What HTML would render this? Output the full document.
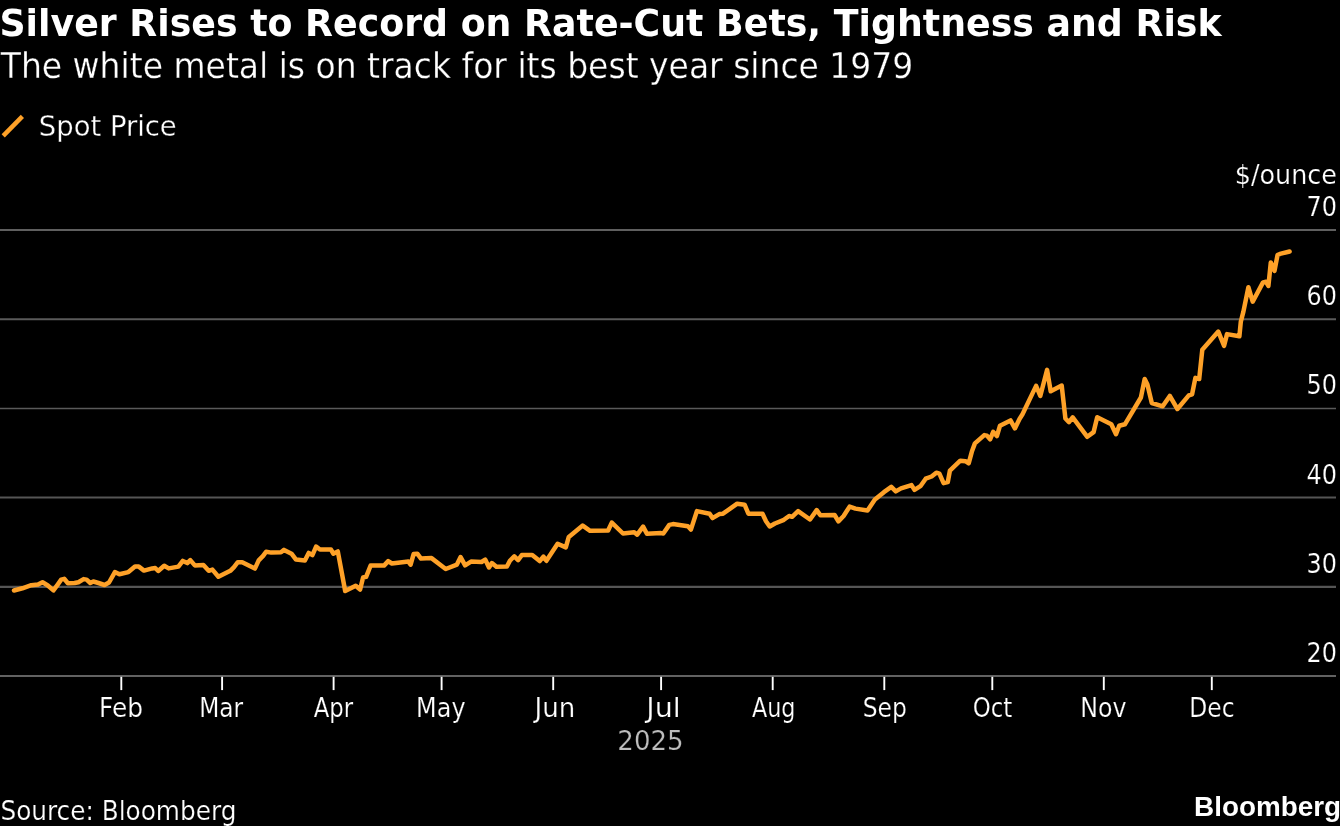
<!DOCTYPE html>
<html><head><meta charset="utf-8"><title>Silver Rises to Record</title>
<style>
html,body{margin:0;padding:0;background:#000;width:1340px;height:826px;overflow:hidden}
svg{display:block;will-change:transform}
text{fill:#fff;font-family:"DejaVu Sans","Liberation Sans",sans-serif}
.th{stroke:#000;stroke-width:0.3px}
.th2{stroke:#000;stroke-width:0.2px}
</style></head><body>
<svg width="1340" height="826" viewBox="0 0 1340 826">
<rect width="1340" height="826" fill="#000"/>
<line x1="0" x2="1336" y1="230.0" y2="230.0" stroke="#5f5f5f" stroke-width="2.0"/>
<line x1="0" x2="1336" y1="319.2" y2="319.2" stroke="#5a5a5a" stroke-width="2.0"/>
<line x1="0" x2="1336" y1="408.5" y2="408.5" stroke="#5a5a5a" stroke-width="1.55"/>
<line x1="0" x2="1336" y1="497.45" y2="497.45" stroke="#555555" stroke-width="2.1"/>
<line x1="0" x2="1336" y1="586.85" y2="586.85" stroke="#555555" stroke-width="2.1"/>
<line x1="0" x2="1336" y1="676.0" y2="676.0" stroke="#626262" stroke-width="2.0"/>
<line x1="121.3" x2="121.3" y1="676.8" y2="690.1" stroke="#fff" stroke-width="1.9"/>
<line x1="222.1" x2="222.1" y1="676.8" y2="690.1" stroke="#fff" stroke-width="1.9"/>
<line x1="333.6" x2="333.6" y1="676.8" y2="690.1" stroke="#fff" stroke-width="1.9"/>
<line x1="441.6" x2="441.6" y1="676.8" y2="690.1" stroke="#fff" stroke-width="1.9"/>
<line x1="553.2" x2="553.2" y1="676.8" y2="690.1" stroke="#fff" stroke-width="1.9"/>
<line x1="661.1" x2="661.1" y1="676.8" y2="690.1" stroke="#fff" stroke-width="1.9"/>
<line x1="772.7" x2="772.7" y1="676.8" y2="690.1" stroke="#fff" stroke-width="1.9"/>
<line x1="884.3" x2="884.3" y1="676.8" y2="690.1" stroke="#fff" stroke-width="1.9"/>
<line x1="992.3" x2="992.3" y1="676.8" y2="690.1" stroke="#fff" stroke-width="1.9"/>
<line x1="1103.8" x2="1103.8" y1="676.8" y2="690.1" stroke="#fff" stroke-width="1.9"/>
<line x1="1211.8" x2="1211.8" y1="676.8" y2="690.1" stroke="#fff" stroke-width="1.9"/>
<line x1="3.2" y1="135.9" x2="22.4" y2="116.4" stroke="#fea128" stroke-width="4.5"/>
<text x="-0.57" y="36" font-size="36.6" style="font-weight:bold" textLength="1222.18" lengthAdjust="spacingAndGlyphs">Silver Rises to Record on Rate-Cut Bets, Tightness and Risk</text>
<text class="th" x="0.78" y="78" font-size="36" style="font-stretch:condensed" textLength="912.56" lengthAdjust="spacingAndGlyphs">The white metal is on track for its best year since 1979</text>
<text class="th" x="38.89" y="135.8" font-size="29" style="font-stretch:condensed" textLength="137.84" lengthAdjust="spacingAndGlyphs">Spot Price</text>
<text class="th2" x="1234.77" y="183.7" font-size="25.7" style="font-stretch:condensed" textLength="102.16" lengthAdjust="spacingAndGlyphs">$/ounce</text>
<text class="th2" x="1306.42" y="215.9" font-size="25.7" style="font-stretch:condensed" textLength="30.50" lengthAdjust="spacingAndGlyphs">70</text>
<text class="th2" x="1306.48" y="305.09999999999997" font-size="25.7" style="font-stretch:condensed" textLength="30.42" lengthAdjust="spacingAndGlyphs">60</text>
<text class="th2" x="1306.47" y="394.34999999999997" font-size="25.7" style="font-stretch:condensed" textLength="30.42" lengthAdjust="spacingAndGlyphs">50</text>
<text class="th2" x="1306.44" y="483.5" font-size="25.7" style="font-stretch:condensed" textLength="30.50" lengthAdjust="spacingAndGlyphs">40</text>
<text class="th2" x="1306.47" y="572.9" font-size="25.7" style="font-stretch:condensed" textLength="30.42" lengthAdjust="spacingAndGlyphs">30</text>
<text class="th2" x="1306.48" y="661.9" font-size="25.7" style="font-stretch:condensed" textLength="30.42" lengthAdjust="spacingAndGlyphs">20</text>
<text class="th2" x="99.13" y="716.9" font-size="25.7" style="font-stretch:condensed" textLength="43.91" lengthAdjust="spacingAndGlyphs">Feb</text>
<text class="th2" x="199.18" y="716.9" font-size="25.7" style="font-stretch:condensed" textLength="44.00" lengthAdjust="spacingAndGlyphs">Mar</text>
<text class="th2" x="313.71" y="716.9" font-size="25.7" style="font-stretch:condensed" textLength="39.40" lengthAdjust="spacingAndGlyphs">Apr</text>
<text class="th2" x="416.12" y="716.9" font-size="25.7" style="font-stretch:condensed" textLength="49.43" lengthAdjust="spacingAndGlyphs">May</text>
<text class="th2" x="534.62" y="716.9" font-size="25.7" style="font-stretch:condensed" textLength="40.71" lengthAdjust="spacingAndGlyphs">Jun</text>
<text class="th2" x="646.26" y="716.9" font-size="25.7" style="font-stretch:condensed" textLength="34.40" lengthAdjust="spacingAndGlyphs">Jul</text>
<text class="th2" x="752.01" y="716.9" font-size="25.7" style="font-stretch:condensed" textLength="43.49" lengthAdjust="spacingAndGlyphs">Aug</text>
<text class="th2" x="862.75" y="716.9" font-size="25.7" style="font-stretch:condensed" textLength="44.12" lengthAdjust="spacingAndGlyphs">Sep</text>
<text class="th2" x="972.75" y="716.9" font-size="25.7" style="font-stretch:condensed" textLength="39.56" lengthAdjust="spacingAndGlyphs">Oct</text>
<text class="th2" x="1080.28" y="716.9" font-size="25.7" style="font-stretch:condensed" textLength="46.22" lengthAdjust="spacingAndGlyphs">Nov</text>
<text class="th2" x="1189.33" y="716.9" font-size="25.7" style="font-stretch:condensed" textLength="45.31" lengthAdjust="spacingAndGlyphs">Dec</text>
<text class="th2" x="617.37" y="749.8" font-size="25.7" style="font-stretch:condensed;fill:#bdbdbd" textLength="66.29" lengthAdjust="spacingAndGlyphs">2025</text>
<text class="th2" x="0.45" y="819.8" font-size="25.7" style="font-stretch:condensed" textLength="235.93" lengthAdjust="spacingAndGlyphs">Source: Bloomberg</text>
<text x="1194.13" y="815.6" font-size="27" style="font-weight:bold;font-family:'Liberation Sans',sans-serif" textLength="146.98" lengthAdjust="spacingAndGlyphs">Bloomberg</text>
<path d="M14.0,590.5 L22.4,588.3 L31.3,585.2 L38,584.5 L42.5,582.2 L47.8,585.5 L53.4,590.4 L57.5,584.8 L61.2,579.6 L64.2,578.8 L67.9,583.3 L74.6,583 L78.4,582.2 L83.6,579.1 L86.6,579.6 L90.3,583 L93.3,581.5 L98.5,583 L104.5,585 L109,582.5 L114.9,572.1 L119.4,574.3 L128.4,572.1 L135,566.6 L138.8,566.6 L144,570.6 L152.2,568.4 L155.2,568 L158.2,571 L164.2,565.7 L168.7,568.4 L178.4,566.6 L182.8,560.9 L187.3,563.1 L190.3,560.1 L194.8,565.4 L203.4,564.9 L208.7,570.8 L212.4,569.6 L218.4,576.8 L230.3,570.8 L234,567.1 L237.8,562.2 L242.2,562.3 L254.9,568.6 L258.7,560.4 L263.1,555.9 L266.1,551.7 L271.3,552.6 L281,552.2 L284,549.9 L291.5,553.7 L296,559.6 L304.9,560.4 L308.7,552.9 L312.4,555.1 L316.1,546.6 L319.9,549.6 L331,549.6 L333.3,553.7 L337.8,551.4 L345.2,591 L355.7,585.7 L360.1,589.5 L363.1,577.5 L366.1,576.8 L370.6,565.6 L384,565.6 L388.2,561.1 L391.9,563.5 L408.4,561.6 L410.6,564.6 L413.6,554.1 L417.3,553.7 L421,558.6 L431.5,558.1 L445.7,569 L456.9,564.6 L460.6,557.1 L465.1,565.3 L471,561.6 L481.5,562 L485.2,559.6 L489,567.5 L491.9,563.1 L496.4,566.8 L506.9,566.5 L509.9,560.8 L514.3,556.3 L518.1,560.1 L521.8,555.1 L532.2,554.9 L539.7,561.1 L543.4,556.6 L546.4,560.8 L557.6,543.7 L565.8,547.4 L568.8,536.9 L582.7,525.6 L590.1,530.8 L608.1,530.5 L611.8,522.6 L623,533.5 L634.2,532.3 L637.2,534.6 L643.1,526.6 L646.9,533.8 L661,533.1 L663.3,533.5 L669.3,524.9 L673,524.1 L687.9,526.3 L690.9,529.6 L696.9,511.1 L709.6,513.7 L712.5,518.1 L719.3,514.1 L723,513.7 L737.2,503.7 L744.6,504.7 L748.4,513.7 L762.5,513.7 L766,521.3 L769.7,526.5 L774.9,523.5 L783.9,519.8 L789.1,516 L792.1,516.8 L798.1,511.1 L810,519.5 L816.7,510.1 L820.4,515.3 L834.6,515 L838.4,521.3 L843.6,516 L849.6,506.6 L855.5,508.6 L867.5,510.5 L874.9,499.6 L883.9,492.2 L891.3,486.9 L895.8,491.4 L901,488.4 L911.5,485.1 L914.5,489.9 L920.4,486.2 L925.7,478.7 L931.6,476.5 L936.3,472.7 L939.4,473.7 L943.6,483.1 L947.8,482.1 L949.9,470.6 L960.3,460.7 L965.5,461.2 L968.7,463.3 L971.8,451.8 L974.9,443.4 L984.3,435.1 L986.9,435.6 L990.1,439.3 L993.2,431.9 L996.9,436.1 L1000,425.7 L1010.5,420.4 L1014.9,428.4 L1019.5,419 L1022.5,414.3 L1036.1,385.9 L1040.3,396 L1047.1,369.9 L1050.7,391.3 L1061.7,385.6 L1065.4,418.5 L1069,422.2 L1072.7,417.3 L1087.3,436.8 L1093.6,432.1 L1097.2,417.3 L1111.3,424.3 L1116,434.2 L1119.2,425.8 L1124.9,424.3 L1140.9,397.5 L1144.7,379 L1147.4,384.5 L1151.8,403 L1162.7,406.3 L1169.8,395.9 L1177.4,409 L1188.8,395.4 L1192.1,394.3 L1195.4,377.9 L1199.2,379 L1202.3,349.7 L1218.3,331.6 L1224.1,345.8 L1227,334.1 L1239.4,336.3 L1240.8,321.8 L1243.4,311.6 L1248.4,287.2 L1252.7,301.7 L1263,282.4 L1266,281.8 L1268.4,286 L1270.8,262.4 L1274.5,270.9 L1277.5,255.1 L1279.9,253.9 L1289.6,251.5" fill="none" stroke="#fea128" stroke-width="4.5" stroke-linejoin="round" stroke-linecap="round"/>
</svg>
</body></html>
